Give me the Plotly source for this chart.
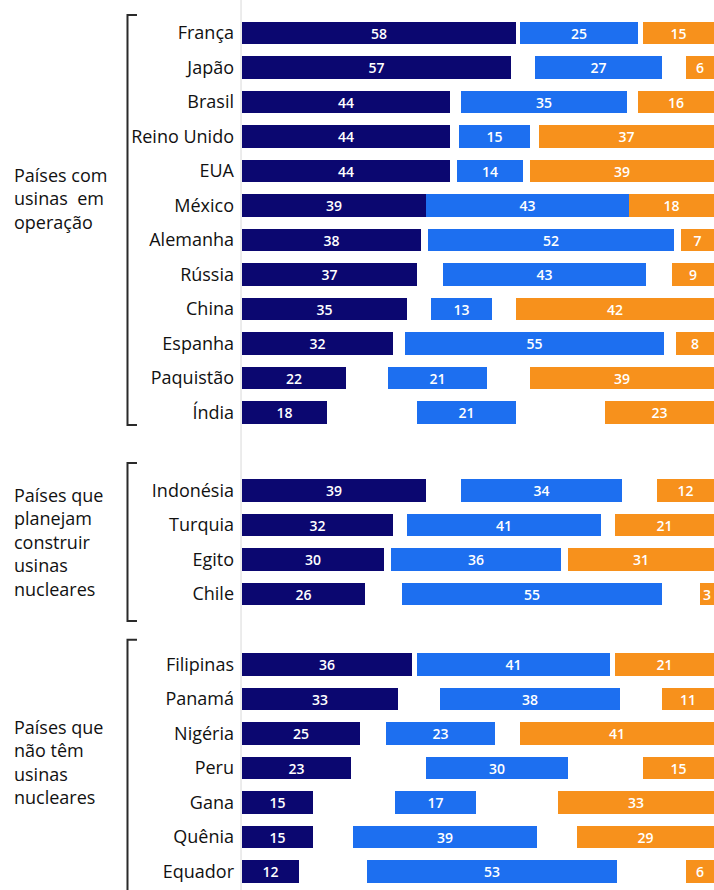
import plotly.graph_objects as go

# Survey results: three answer shares per country, in three groups
grupo_operacao = ["França", "Japão", "Brasil", "Reino Unido", "EUA", "México",
                  "Alemanha", "Rússia", "China", "Espanha", "Paquistão", "Índia"]
grupo_planejam = ["Indonésia", "Turquia", "Egito", "Chile"]
grupo_sem = ["Filipinas", "Panamá", "Nigéria", "Peru", "Gana", "Quênia", "Equador"]

serie_a = [58, 57, 44, 44, 44, 39, 38, 37, 35, 32, 22, 18,
           39, 32, 30, 26,
           36, 33, 25, 23, 15, 15, 12]
serie_b = [25, 27, 35, 15, 14, 43, 52, 43, 13, 55, 21, 21,
           34, 41, 36, 55,
           41, 38, 23, 30, 17, 39, 53]
serie_c = [15, 6, 16, 37, 39, 18, 7, 9, 42, 8, 39, 23,
           12, 21, 31, 3,
           21, 11, 41, 15, 33, 29, 6]

rotulos_grupos = ["Países com<br>usinas  em<br>operação",
                  "Países que<br>planejam<br>construir<br>usinas<br>nucleares",
                  "Países que<br>não têm<br>usinas<br>nucleares"]

COR_A = "#0b0770"
COR_B = "#1d6ff0"
COR_C = "#f7911c"
FONTE = "Open Sans"

# Row positions: one unit per country, extra space between groups
grupos = [grupo_operacao, grupo_planejam, grupo_sem]
espaco_extra = [0, 1.26, 1.04]
paises, posicoes, limites = [], [], []
pos = 0.0
for gi, g in enumerate(grupos):
    pos += espaco_extra[gi]
    inicio = pos
    for nome in g:
        paises.append(nome)
        posicoes.append(pos)
        pos += 1
    limites.append((inicio, pos - 1))

# First share starts at 0, last share ends at 100,
# middle share is centred in the space between them
base_b = [(a + (100 - c)) / 2 - b / 2 for a, b, c in zip(serie_a, serie_b, serie_c)]
base_c = [100 - c for c in serie_c]

largura = 0.655
fig = go.Figure()
for valores, bases, cor in [(serie_a, [0] * len(serie_a), COR_A),
                            (serie_b, base_b, COR_B),
                            (serie_c, base_c, COR_C)]:
    fig.add_trace(go.Bar(
        orientation="h", y=posicoes, x=valores, base=bases,
        width=largura, marker=dict(color=cor, line=dict(width=0)),
        text=[str(v) for v in valores], textposition="inside",
        insidetextanchor="middle", constraintext="none", textangle=0,
        textfont=dict(family=FONTE, size=14, color="white", weight=600),
        cliponaxis=True, hoverinfo="skip", showlegend=False,
    ))

# Brackets around each group, drawn left of the country names
bx, bt = -0.2426, -0.2225
bordas = [(-0.52, 0.36), (-0.8, 0.78), (-0.71, 3.0)]
for (ini, fim), (d_top, d_bot) in zip(limites, bordas):
    y0 = ini + d_top
    y1 = fim + d_bot
    fig.add_shape(type="path", xref="paper", yref="y",
                  path=f"M {bt},{y0} L {bx},{y0} L {bx},{y1} L {bt},{y1}",
                  line=dict(color="#2a2a2a", width=2))

# Group captions
centros = [4.8,
           (limites[1][0] + limites[1][1]) / 2,
           (limites[2][0] + limites[2][1]) / 2 - 0.17]
for texto, yc in zip(rotulos_grupos, centros):
    fig.add_annotation(x=-0.487, xref="paper", y=yc, yref="y",
                       text=texto, showarrow=False, xanchor="left",
                       yanchor="middle", align="left",
                       font=dict(family=FONTE, size=18, color="#111111", weight=500))

# Faint baseline at the left edge of the bars
fig.add_shape(type="line", xref="paper", yref="paper", x0=-0.002, x1=-0.002,
              y0=0, y1=1, line=dict(color="#e6e6e6", width=1.5))

fig.update_layout(
    width=714, height=890,
    margin=dict(l=242, r=0, t=0, b=0),
    paper_bgcolor="white", plot_bgcolor="white",
    barmode="overlay", bargap=0,
    xaxis=dict(range=[0, 100], visible=False, fixedrange=True),
    yaxis=dict(range=[24.84, -0.9565], tickvals=posicoes, ticktext=paises,
               showgrid=False, zeroline=False, showline=False, ticks="",
               ticklabelstandoff=7,
               tickfont=dict(family=FONTE, size=18, color="#111111", weight=500)),
)

fig.write_html("out.html", config={"displayModeBar": False})
